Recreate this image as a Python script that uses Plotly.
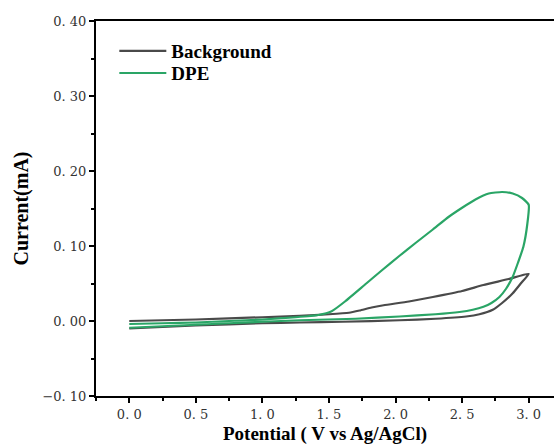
import plotly.graph_objects as go

# ---- data ----
bg_fwd_x = [0.0, 0.5, 1.0, 1.28, 1.5, 1.65, 1.73, 1.82, 1.91, 2.1, 2.28, 2.5, 2.66, 2.85, 3.0]
bg_fwd_y = [0.000, 0.002, 0.005, 0.007, 0.009, 0.011, 0.014, 0.018, 0.021, 0.026, 0.032, 0.040, 0.048, 0.056, 0.063]
bg_rev_x = [3.0, 2.94, 2.88, 2.8, 2.73, 2.63, 2.53, 2.3, 2.03, 1.6, 1.28, 1.0, 0.5, 0.0]
bg_rev_y = [0.063, 0.050, 0.037, 0.024, 0.015, 0.009, 0.006, 0.003, 0.001, -0.001, -0.002, -0.003, -0.006, -0.010]

dpe_fwd_x = [0.0, 0.25, 0.5, 0.75, 1.0, 1.25, 1.42, 1.52, 1.62, 1.78, 1.9, 2.03, 2.15, 2.28, 2.4, 2.5,
             2.6, 2.7, 2.8, 2.88, 2.95, 3.0]
dpe_fwd_y = [-0.004, -0.003, -0.002, 0.000, 0.002, 0.005, 0.008, 0.013, 0.026, 0.050, 0.068, 0.087, 0.104,
             0.122, 0.139, 0.151, 0.162, 0.170, 0.172, 0.170, 0.164, 0.155]
dpe_rev_x = [3.0, 2.99, 2.96, 2.92, 2.88, 2.83, 2.78, 2.72, 2.66, 2.58, 2.48, 2.3, 2.03, 1.7, 1.28, 1.0, 0.5, 0.0]
dpe_rev_y = [0.150, 0.130, 0.099, 0.078, 0.059, 0.043, 0.032, 0.024, 0.019, 0.015, 0.012, 0.009, 0.006,
             0.003, 0.001, -0.001, -0.005, -0.009]

x_tick_vals = [0.0, 0.5, 1.0, 1.5, 2.0, 2.5, 3.0]
x_tick_text = ["0. 0", "0. 5", "1. 0", "1. 5", "2. 0", "2. 5", "3. 0"]
y_tick_vals = [-0.1, 0.0, 0.1, 0.2, 0.3, 0.4]
y_tick_text = ["\u22120. 10", "0. 00", "0. 10", "0. 20", "0. 30", "0. 40"]

series_names = ["Background", "DPE"]
series_colors = ["#4a4a4a", "#2aa566"]

serif = "Liberation Serif, Times New Roman, serif"
tickserif = "DejaVu Serif, serif"

fig = go.Figure()
fig.add_trace(go.Scatter(
    x=bg_fwd_x + bg_rev_x[1:], y=bg_fwd_y + bg_rev_y[1:], mode="lines",
    name="<b>" + series_names[0] + "</b>", legend="legend",
    line=dict(color=series_colors[0], width=2.2, shape="spline", smoothing=0.5)))
fig.add_trace(go.Scatter(
    x=dpe_fwd_x + dpe_rev_x[1:], y=dpe_fwd_y + dpe_rev_y[1:], mode="lines",
    name="<b>" + series_names[1] + "</b>", legend="legend2",
    line=dict(color=series_colors[1], width=2.2, shape="spline", smoothing=0.5)))

leg_common = dict(xanchor="left", yanchor="middle", bgcolor="rgba(0,0,0,0)",
                  font=dict(family=serif, size=19, color="black"), itemwidth=47)

fig.update_layout(
    width=555, height=448,
    margin=dict(l=96, r=1, t=21, b=52),
    plot_bgcolor="white", paper_bgcolor="white",
    font=dict(family=serif, color="black"),
    showlegend=True,
    legend=dict(x=0.04, y=0.92, **leg_common),
    legend2=dict(x=0.04, y=0.861, **leg_common),
    xaxis=dict(
        range=[-0.25, 3.19], tickvals=x_tick_vals, ticktext=x_tick_text,
        showline=True, linecolor="black", linewidth=2, mirror=True,
        ticks="outside", ticklen=5, tickwidth=2, tickcolor="black",
        minor=dict(dtick=0.25, tick0=0, ticks="outside", ticklen=3, tickwidth=2, tickcolor="black"),
        showgrid=False, zeroline=False,
        tickfont=dict(family=tickserif, size=13, color="#333"),
        title=dict(text="<b>Potential ( V vs Ag/AgCl)</b>", font=dict(family=serif, size=19), standoff=6),
    ),
    yaxis=dict(
        range=[-0.1, 0.4], tickvals=y_tick_vals, ticktext=y_tick_text,
        showline=True, linecolor="black", linewidth=2, mirror=False,
        ticks="outside", ticklen=5, tickwidth=2, tickcolor="black",
        minor=dict(dtick=0.05, tick0=0, ticks="outside", ticklen=3, tickwidth=2, tickcolor="black"),
        showgrid=False, zeroline=False,
        tickfont=dict(family=tickserif, size=13, color="#333"),
        title=dict(text="<b>Current(mA)</b>", font=dict(family=serif, size=20), standoff=8),
    ),
)

fig.write_html("out.html")
